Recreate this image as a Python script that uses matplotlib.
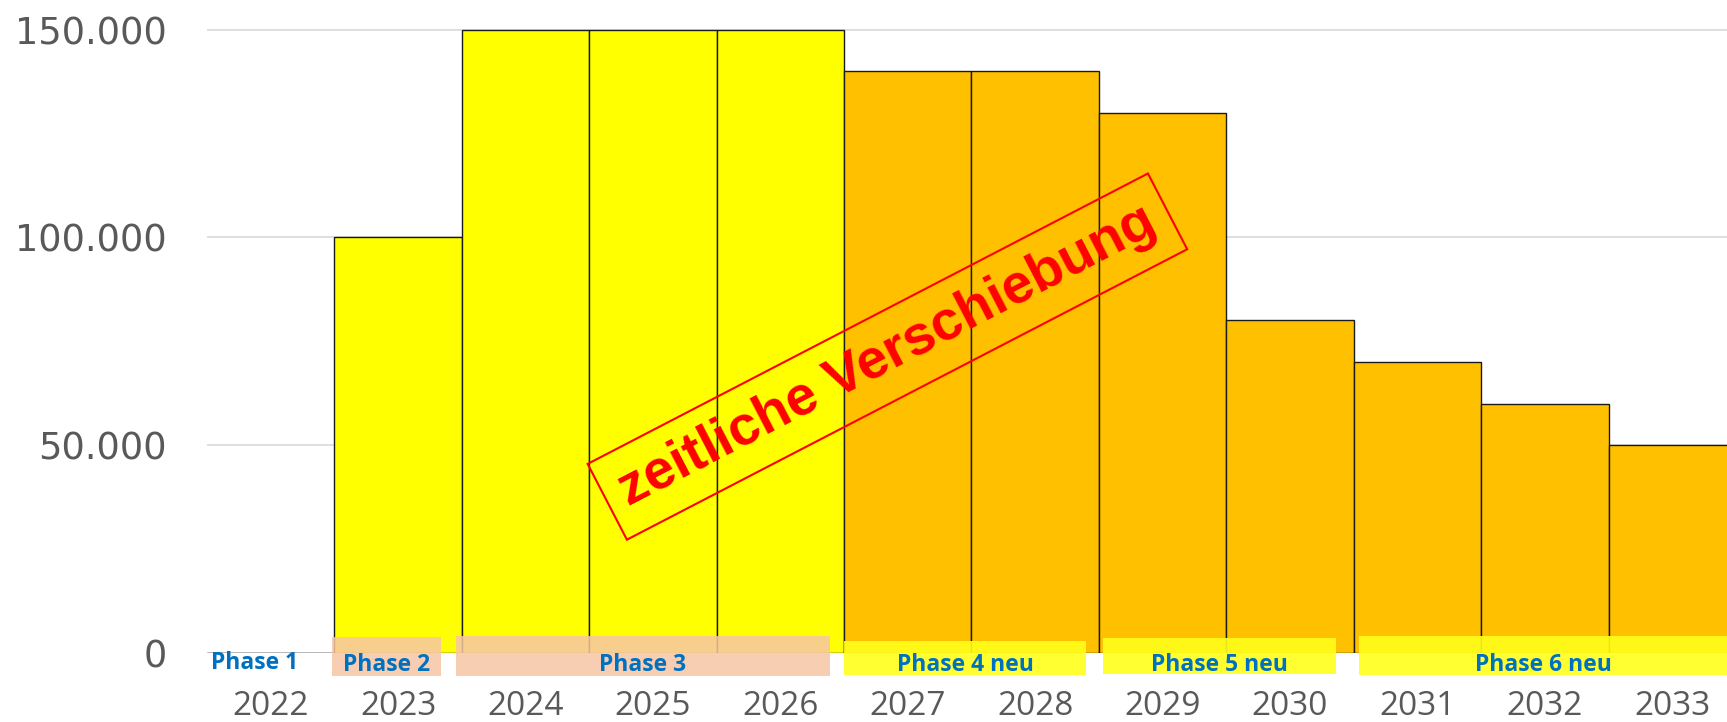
import matplotlib
matplotlib.use("Agg")
import matplotlib.pyplot as plt
from matplotlib.patches import Rectangle
from matplotlib.ticker import FuncFormatter

years = ["2022", "2023", "2024", "2025", "2026", "2027", "2028",
         "2029", "2030", "2031", "2032", "2033"]
values = [0, 100000, 150000, 150000, 150000, 140000, 140000,
          130000, 80000, 70000, 60000, 50000]
bar_colors = ["#FFFF00"] * 5 + ["#FFC000"] * 7

phase_labels = ["Phase 2", "Phase 3", "Phase 4 neu", "Phase 5 neu", "Phase 6 neu"]
phase_x0 = [0.48, 1.45, 4.50, 6.53, 8.54]
phase_x1 = [1.34, 4.39, 6.40, 8.36, 11.6]
phase_y0 = [-5565, -5565, -5300, -5035, -5300]
phase_y1 = [3710, 3975, 2915, 3445, 3975]
phase_face = ["#F7C6A6", "#F7C6A6", "#FFFF1A", "#FFFF1A", "#FFFF1A"]
phase_alpha = [0.85, 0.85, 0.9, 0.9, 0.9]

fig = plt.figure(figsize=(17.27, 7.22), dpi=100)
ax = fig.add_axes([0.1199, 0.096, 0.8801, 0.8743])

x = list(range(len(years)))
ax.bar(x, values, width=1.0, color=bar_colors, edgecolor="#1a1a1a",
       linewidth=1.0, zorder=2)

ax.set_xlim(-0.5, 11.43)
ax.set_ylim(0, 152000)
ax.set_yticks([0, 50000, 100000, 150000])
ax.yaxis.set_major_formatter(FuncFormatter(lambda v, p: f"{int(v):,}".replace(",", ".")))
ax.grid(axis="y", color="#D9D9D9", linewidth=1.2, zorder=0)
ax.set_axisbelow(True)
for s in ax.spines.values():
    s.set_visible(False)
ax.tick_params(axis="y", length=0, pad=29, labelsize=26.5, labelcolor="#595959")
ax.tick_params(axis="x", length=0, pad=27, labelcolor="#595959")
ax.set_xticks(x)
ax.set_xticklabels(years, fontsize=24, family="Open Sans")

# Phase boxes
for lab, x0, x1, y0, y1, fc, al in zip(phase_labels, phase_x0, phase_x1,
                                       phase_y0, phase_y1, phase_face, phase_alpha):
    r = Rectangle((x0, y0), x1 - x0, y1 - y0, facecolor=fc, edgecolor="none",
                  alpha=al, zorder=4, clip_on=False)
    ax.add_patch(r)
    ax.text((x0 + min(x1, 11.43)) / 2 if lab != "Phase 6 neu" else 9.99, -3000, lab,
            ha="center", va="center", color="#0070C0", fontsize=16.5,
            fontweight="bold", family="Open Sans", zorder=5, clip_on=False)

t1 = ax.text(-0.13, -2500, "Phase 1", ha="center", va="center", color="#0070C0",
             fontsize=16.5, fontweight="bold", family="Open Sans", zorder=5)
clip = Rectangle((-0.6, -4700), 1.2, 10000, transform=ax.transData)
t1.set_clip_path(clip)

ax.text(4.84, 71300, "zeitliche Verschiebung", rotation=27.4,
        rotation_mode="anchor", ha="center", va="center",
        color="#FF0000", fontsize=40, fontweight="bold",
        family="Liberation Sans", zorder=6,
        bbox=dict(boxstyle="square,pad=0.3", facecolor="none",
                  edgecolor="#FF0000", linewidth=1.5))

fig.savefig("out.png", dpi=100)
